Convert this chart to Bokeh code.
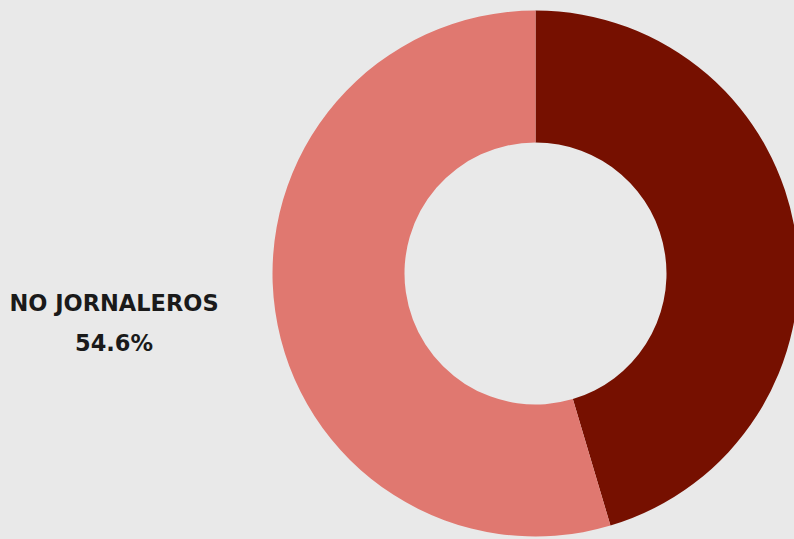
import math
from bokeh.plotting import figure
from bokeh.models import Range1d, ColumnDataSource
from bokeh.core.properties import value
from bokeh.embed import file_html
from bokeh.resources import INLINE

categories = ["JORNALEROS", "NO JORNALEROS"]
shares = [45.4, 54.6]
colors = ["#761000", "#e07870"]

W, H = 794, 539
p = figure(width=W, height=H, output_backend="svg", toolbar_location=None,
           x_range=Range1d(0, 794), y_range=Range1d(-539, 0),
           min_border=0, min_border_left=0, min_border_right=0,
           min_border_top=0, min_border_bottom=0)
p.axis.visible = False
p.grid.visible = False
p.outline_line_color = None
p.background_fill_color = "#e9e9e9"
p.border_fill_color = "#e9e9e9"

cx, cy = 535, -273
r_out, r_in = 263, 131

starts, ends = [], []
acc = 0.0
total = sum(shares)
for s in shares:
    a0 = math.pi / 2 - 2 * math.pi * acc / total
    acc += s
    a1 = math.pi / 2 - 2 * math.pi * acc / total
    starts.append(a0)
    ends.append(a1)

src = ColumnDataSource(dict(cat=categories, share=shares, color=colors,
                            start=starts, end=ends))
p.annular_wedge(x=cx, y=cy, inner_radius=r_in, outer_radius=r_out,
                start_angle="start", end_angle="end", direction="clock",
                fill_color="color", line_color=None, source=src)

# label for the visible slice
i = 1
p.text(x=[113.5], y=[-302], text=[categories[i]],
       text_font=value("DejaVu Sans"), text_font_style="bold",
       text_font_size="22.5px", text_color="#1a1a1a",
       text_align="center", text_baseline="middle")
p.text(x=[113.5], y=[-342], text=[f"{shares[i]}%"],
       text_font=value("DejaVu Sans"), text_font_style="bold",
       text_font_size="22.5px", text_color="#1a1a1a",
       text_align="center", text_baseline="middle")

html = file_html(p, INLINE)
html = html.replace("<head>", "<head><style>html,body{background:#e9e9e9;}</style>", 1)
open("out.html", "w").write(html)
